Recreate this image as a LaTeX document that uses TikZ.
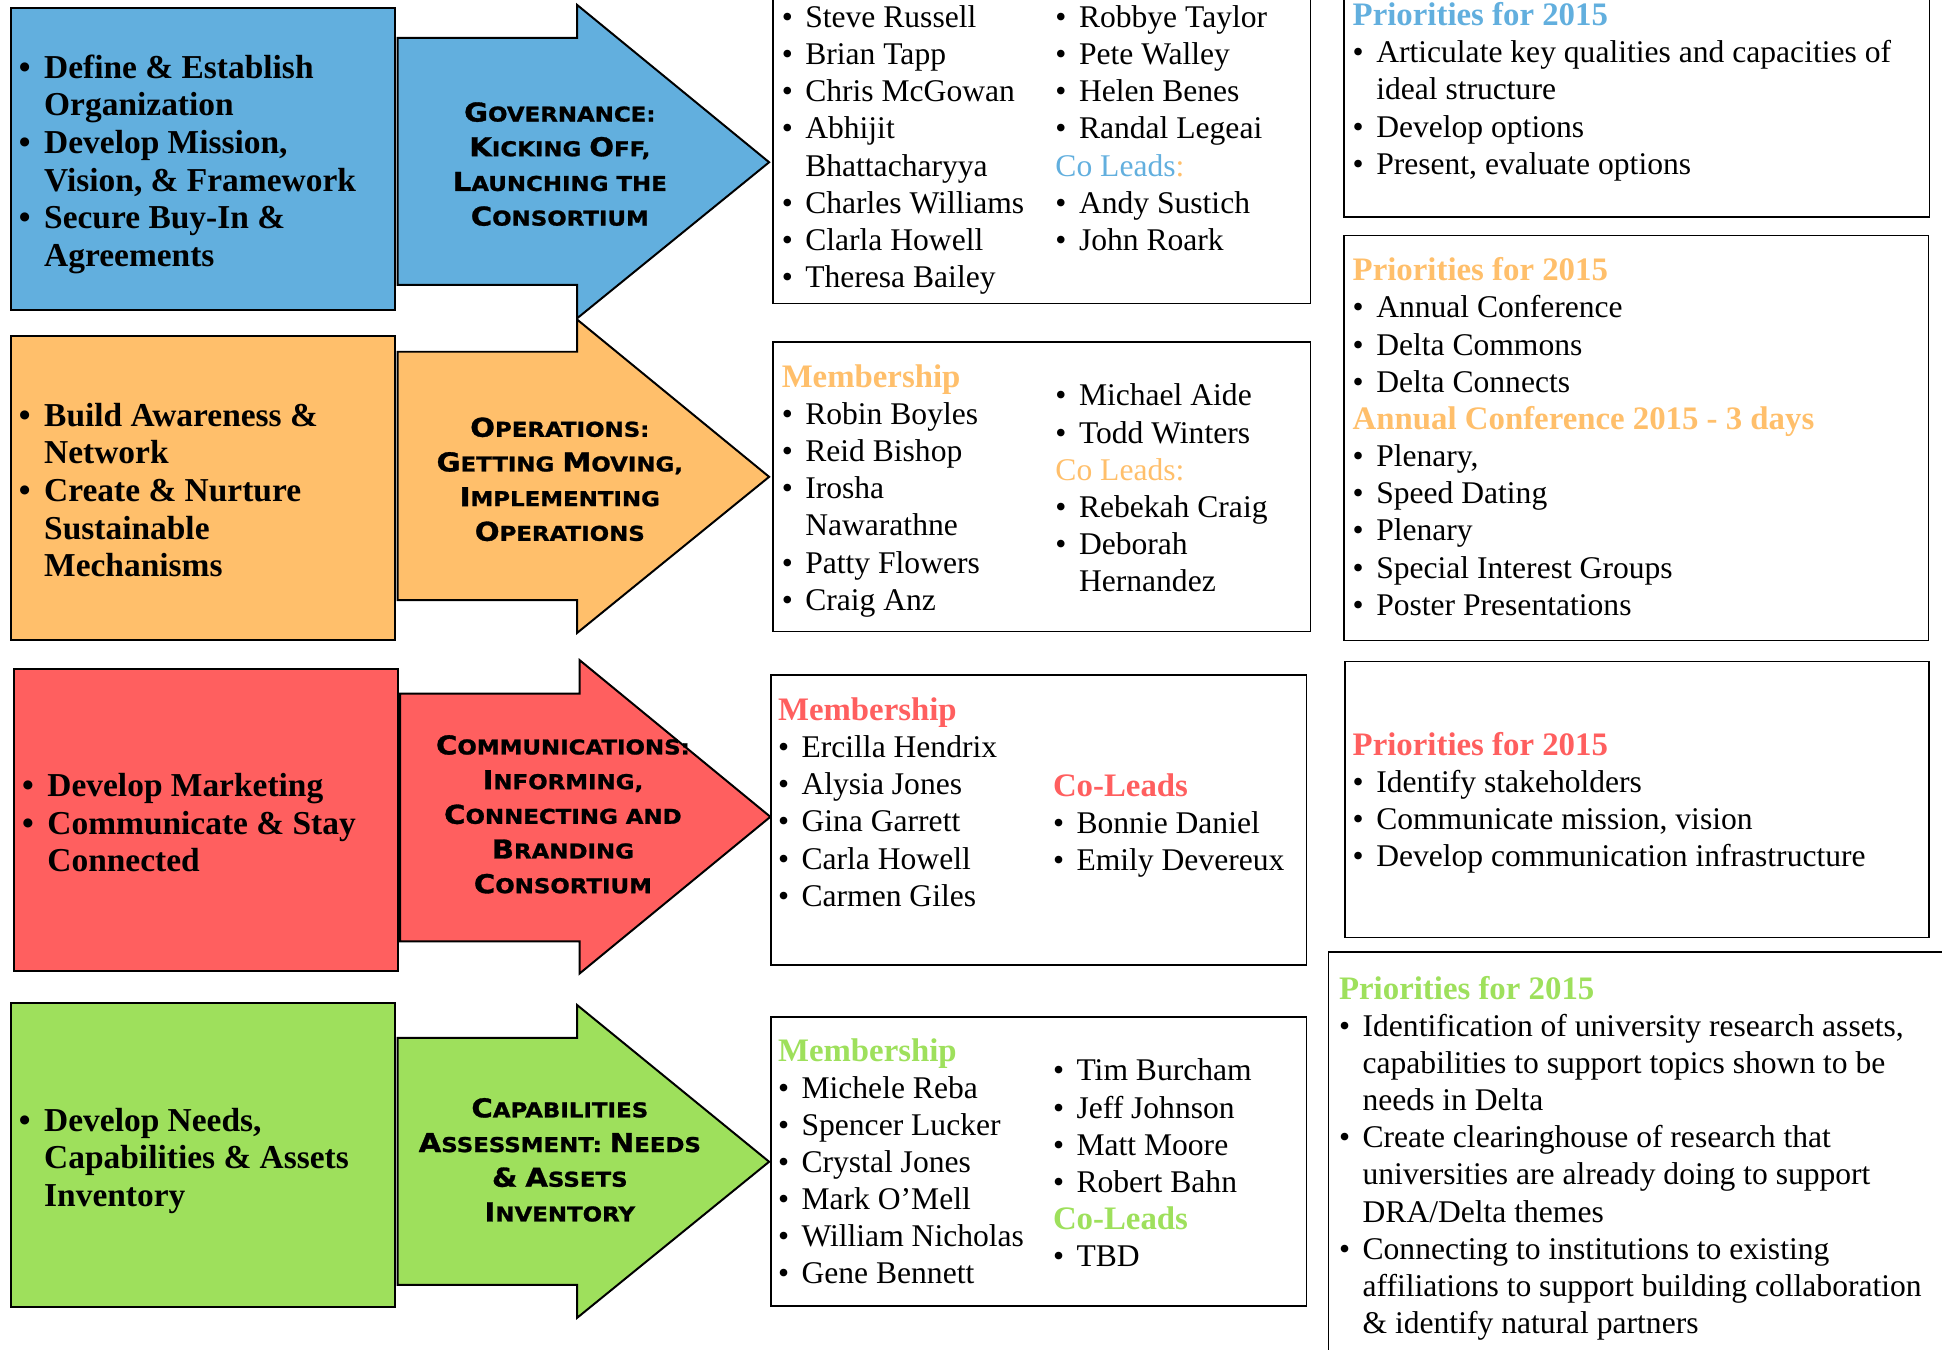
\documentclass[tikz,border=0pt]{standalone}
\usepackage{fontspec}
\setmainfont{Liberation Serif}
\newfontfamily\cpfont[FakeStretch=1.12,FakeBold=1.2]{DejaVu Sans Bold}
\definecolor{cblue}{RGB}{98,175,222}
\definecolor{corange}{RGB}{255,191,107}
\definecolor{cred}{RGB}{255,95,95}
\definecolor{cgreen}{RGB}{158,224,92}
\newcommand\bul[1][19pt]{\strut\makebox[#1][l]{\textbullet}}
\newcommand\cnt[1][19pt]{\strut\hspace*{#1}}
\newcommand\hd[2]{\strut{\color{#1}\bfseries\fontsize{26.5}{30}\selectfont #2}}
\newcommand\Lc[1]{{\fontsize{21}{28}\selectfont #1}}
\begin{document}
\begin{tikzpicture}[x=1pt,y=-1pt,
  cbox/.style={draw=black, line width=1.6pt},
  arr/.style={draw=black, line width=1.6pt, line join=miter},
  wbox/.style={draw=black, line width=1.3pt},
  txt/.style={anchor=north west, inner sep=0pt, align=left, font=\fontsize{25.5}{30}\selectfont},
  ltxt/.style={anchor=north west, inner sep=0pt, align=left, font=\bfseries\fontsize{27}{30.4}\selectfont},
  atxt/.style={anchor=center, inner sep=0pt, align=center, font=\cpfont\fontsize{16.5}{28}\selectfont}]
\useasboundingbox (0,0) rectangle (1568,1090);
\clip (0,0) rectangle (1568,1090);

% ---------- row 1 (blue) ----------
\draw[cbox, fill=cblue] (8.8,6.7) rectangle (319,250);
\draw[arr, fill=cblue] (321,30.5) -- (466,30.5) -- (466,4) -- (621,131) -- (466,257) -- (466,230) -- (321,230) -- cycle;
\node[ltxt] (g1) at (15,41.7) {\bul[20.5pt]Define \& Establish\\ \cnt[20.5pt]Organization\\ \bul[20.5pt]Develop Mission,\\ \cnt[20.5pt]Vision, \& Framework\\ \bul[20.5pt]Secure Buy-In \&\\ \cnt[20.5pt]Agreements};
\node[atxt] (a1) at (452,132.5) {\Lc{G}OVERNANCE:\\ \Lc{K}ICKING \Lc{O}FF,\\ \Lc{L}AUNCHING THE\\ \Lc{C}ONSORTIUM};
\draw[wbox] (624,-5) rectangle (1058,245);
\node[txt] (n1a) at (631,1) {\bul Steve Russell\\ \bul Brian Tapp\\ \bul Chris McGowan\\ \bul Abhijit\\ \cnt Bhattacharyya\\ \bul Charles Williams\\ \bul Clarla Howell\\ \bul Theresa Bailey};
\node[txt] (n1b) at (852,1) {\bul Robbye Taylor\\ \bul Pete Walley\\ \bul Helen Benes\\ \bul Randal Legeai\\ \strut{\color{cblue}Co Leads}{\color{corange}:}\\ \bul Andy Sustich\\ \bul John Roark};
\draw[wbox] (1085,-5) rectangle (1558,175);
\node[txt] (p1) at (1092,-0.5) {\hd{cblue}{Priorities for 2015}\\ \bul Articulate key qualities and capacities of\\ \cnt ideal structure\\ \bul Develop options\\ \bul Present, evaluate options};

% ---------- row 2 (orange) ----------
\draw[cbox, fill=corange] (8.8,271) rectangle (319,517);
\draw[arr, fill=corange] (321,284) -- (466,284) -- (466,258) -- (621,385) -- (466,511) -- (466,484.5) -- (321,484.5) -- cycle;
\node[ltxt] (g2) at (15,322.7) {\bul[20.5pt]Build Awareness \&\\ \cnt[20.5pt]Network\\ \bul[20.5pt]Create \& Nurture\\ \cnt[20.5pt]Sustainable\\ \cnt[20.5pt]Mechanisms};
\node[atxt] (a2) at (452,387) {\Lc{O}PERATIONS:\\ \Lc{G}ETTING \Lc{M}OVING,\\ \Lc{I}MPLEMENTING\\ \Lc{O}PERATIONS};
\draw[wbox] (624,276) rectangle (1058,510);
\node[txt] (n2a) at (631,291.5) {\hd{corange}{Membership}\\ \bul Robin Boyles\\ \bul Reid Bishop\\ \bul Irosha\\ \cnt Nawarathne\\ \bul Patty Flowers\\ \bul Craig Anz};
\node[txt] (n2b) at (852,306.5) {\bul Michael Aide\\ \bul Todd Winters\\ \strut{\color{corange}Co Leads:}\\ \bul Rebekah Craig\\ \bul Deborah\\ \cnt Hernandez};
\draw[wbox] (1085,190) rectangle (1557,517);
\node[txt] (p2) at (1092,205.5) {\hd{corange}{Priorities for 2015}\\ \bul Annual Conference\\ \bul Delta Commons\\ \bul Delta Connects\\ \hd{corange}{Annual Conference 2015 - 3 days}\\ \bul Plenary,\\ \bul Speed Dating\\ \bul Plenary\\ \bul Special Interest Groups\\ \bul Poster Presentations};

% ---------- row 3 (red) ----------
\draw[cbox, fill=cred] (11,540) rectangle (321,784);
\draw[arr, fill=cred] (323,560) -- (468,560) -- (468,533) -- (622,659.5) -- (468,786) -- (468,760) -- (323,760) -- cycle;
\node[ltxt] (g3) at (17.6,621.7) {\bul[20.5pt]Develop Marketing\\ \bul[20.5pt]Communicate \& Stay\\ \cnt[20.5pt]Connected};
\node[atxt] (a3) at (454.5,657.5) {\Lc{C}OMMUNICATIONS:\\ \Lc{I}NFORMING,\\ \Lc{C}ONNECTING AND\\ \Lc{B}RANDING\\ \Lc{C}ONSORTIUM};
\draw[wbox] (622.5,545) rectangle (1055,779);
\node[txt] (n3a) at (628,560.5) {\hd{cred}{Membership}\\ \bul Ercilla Hendrix\\ \bul Alysia Jones\\ \bul Gina Garrett\\ \bul Carla Howell\\ \bul Carmen Giles};
\node[txt] (n3b) at (850,621.5) {\hd{cred}{Co-Leads}\\ \bul Bonnie Daniel\\ \bul Emily Devereux};
\draw[wbox] (1086,534) rectangle (1557.5,757);
\node[txt] (p3) at (1092,588.5) {\hd{cred}{Priorities for 2015}\\ \bul Identify stakeholders\\ \bul Communicate mission, vision\\ \bul Develop communication infrastructure};

% ---------- row 4 (green) ----------
\draw[cbox, fill=cgreen] (8.8,810) rectangle (319,1055);
\draw[arr, fill=cgreen] (321,838) -- (466,838) -- (466,811.5) -- (621,938) -- (466,1064) -- (466,1037.5) -- (321,1037.5) -- cycle;
\node[ltxt] (g4) at (15,891.7) {\bul[20.5pt]Develop Needs,\\ \cnt[20.5pt]Capabilities \& Assets\\ \cnt[20.5pt]Inventory};
\node[atxt] (a4) at (452,936.5) {\Lc{C}APABILITIES\\ \Lc{A}SSESSMENT: \Lc{N}EEDS\\ \Lc{\&} \Lc{A}SSETS\\ \Lc{I}NVENTORY};
\draw[wbox] (622.5,821) rectangle (1055,1054.5);
\node[txt] (n4a) at (628,835.5) {\hd{cgreen}{Membership}\\ \bul Michele Reba\\ \bul Spencer Lucker\\ \bul Crystal Jones\\ \bul Mark O’Mell\\ \bul William Nicholas\\ \bul Gene Bennett};
\node[txt] (n4b) at (850,851.5) {\bul Tim Burcham\\ \bul Jeff Johnson\\ \bul Matt Moore\\ \bul Robert Bahn\\ \hd{cgreen}{Co-Leads}\\ \bul TBD};
\draw[wbox] (1072.5,768.5) rectangle (1580,1100);
\node[txt] (p4) at (1081,785.5) {\hd{cgreen}{Priorities for 2015}\\ \bul Identification of university research assets,\\ \cnt capabilities to support topics shown to be\\ \cnt needs in Delta\\ \bul Create clearinghouse of research that\\ \cnt universities are already doing to support\\ \cnt DRA/Delta themes\\ \bul Connecting to institutions to existing\\ \cnt affiliations to support building collaboration\\ \cnt \& identify natural partners};
\end{tikzpicture}
\end{document}
